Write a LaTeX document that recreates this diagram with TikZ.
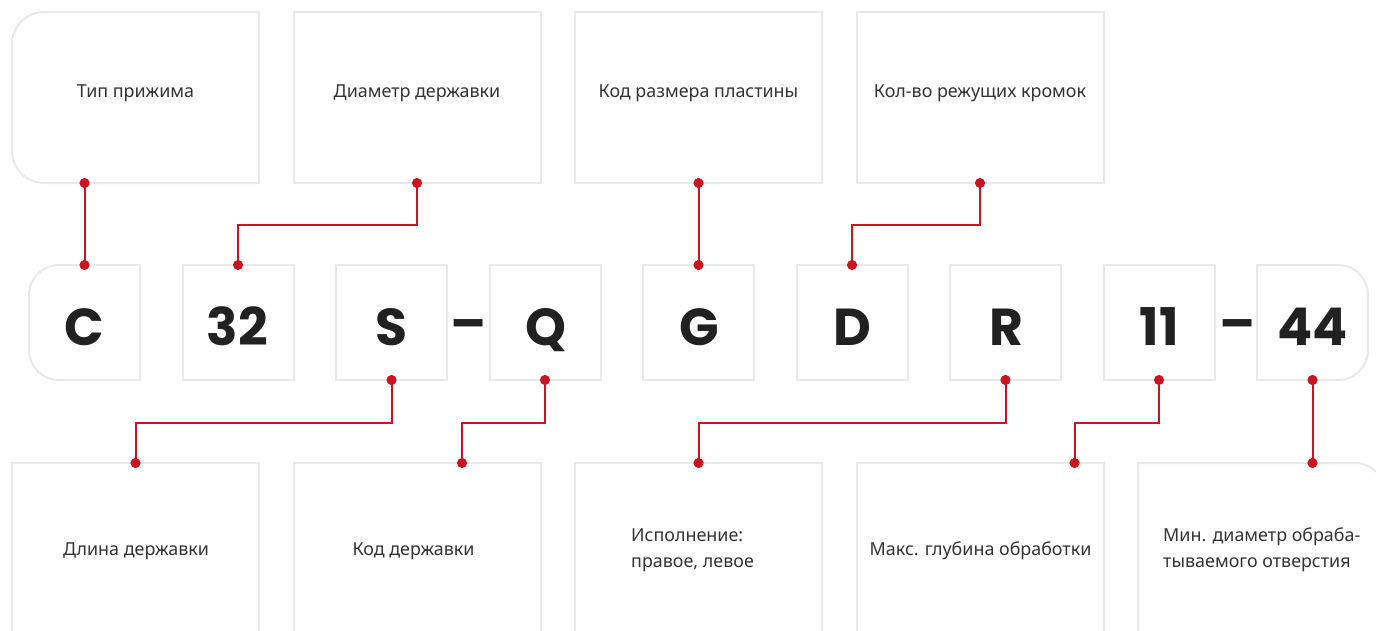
\documentclass[tikz,border=0pt]{standalone}
\usepackage{fontspec}
\setmainfont{Noto Sans}
\newfontfamily\codefont{Poppins}
\usepackage{tikz}
\usetikzlibrary{arrows.meta, positioning, calc}
\definecolor{boxgray}{RGB}{233,233,233}
\definecolor{markred}{RGB}{204,20,32}
\definecolor{ink}{RGB}{33,33,33}
\definecolor{labelgray}{RGB}{51,51,51}

\begin{document}
\begin{tikzpicture}[x=1pt, y=-1pt,
      cell/.style={rectangle, draw=boxgray, line width=2pt, outer sep=0pt,
                   minimum width=111pt, minimum height=115pt, inner sep=0pt},
      card/.style={rectangle, draw=boxgray, line width=2pt, outer sep=0pt,
                   minimum width=247pt, minimum height=171pt, inner sep=0pt},
      deep/.style={card, minimum height=187pt},
      ghost/.style={draw=none},
      edge/.style={boxgray, line width=2pt},
      code/.style={font=\codefont\bfseries\fontsize{52}{52}\selectfont, text=ink,
                   inner sep=0pt, anchor=base},
      lbl/.style={font=\fontsize{17.9}{26}\selectfont, text=labelgray, align=left,
                  inner sep=0pt},
      link/.style={{Circle[length=10pt]}-{Circle[length=10pt]}, markred,
                   line width=2pt, shorten <=-5pt, shorten >=-5pt},
      ]
    \useasboundingbox (0,0) rectangle (1376,630);
    \clip (0,0) rectangle (1376,630);

    % top row
    \node[card, ghost] (t1) at (135.5,97.5) {};
    \node[card, right=34.5pt of t1] (t2) {};
    \node[card, right=34.5pt of t2] (t3) {};
    \node[card, right=34.5pt of t3] (t4) {};
    \draw[edge] (t1.south east) -- (t1.north east) [rounded corners=32pt]
      -- (t1.north west) -- (t1.south west) [sharp corners] -- cycle;

    % code cells
    \node[cell, ghost] (c) at (84.5,322.5) {};
    \node[cell, right=42.5pt of c] (n32) {};
    \node[cell, right=42.5pt of n32] (s) {};
    \node[cell, right=42.5pt of s] (q) {};
    \node[cell, right=42.5pt of q] (g) {};
    \node[cell, right=42.5pt of g] (d) {};
    \node[cell, right=42.5pt of d] (r) {};
    \node[cell, right=42.5pt of r] (n11) {};
    \node[cell, ghost, right=42.5pt of n11] (n44) {};
    \draw[edge] (c.south east) -- (c.north east) [rounded corners=30pt]
      -- (c.north west) -- (c.south west) [sharp corners] -- cycle;
    \draw[edge] (n44.north west) -- (n44.south west) [rounded corners=30pt]
      -- (n44.south east) -- (n44.north east) [sharp corners] -- cycle;

    % bottom row
    \node[deep] (b1) at (135.5,556.5) {};
    \node[deep, right=34.5pt of b1] (b2) {};
    \node[deep, right=34.5pt of b2] (b3) {};
    \node[deep, right=34.5pt of b3] (b4) {};
    \node[deep, ghost, right=34.5pt of b4] (b5) {};
    \draw[edge] (b5.south west) -- (b5.north west) [rounded corners=30pt]
      -- (b5.north east) -- (b5.south east);

    % letters
    \node[code] (lc) at (84.5,345) {C};
    \node[code] (l32) at (237.5,345) {32};
    \node[code] (ls) at (391.5,345) {S};
    \node[code] (lq) at (545.5,345) {Q};
    \node[code] (lg) at (699.5,345) {G};
    \node[code] (ld) at (852.5,345) {D};
    \node[code] (lr) at (1006.5,345) {R};
    \node[code] (l11) at (1159.5,345) {11};
    \node[code] (l44) at (1312.5,345) {44};
    \node[code] (dash1) at (468.5,341) {–};
    \node[code] (dash2) at (1237.5,341) {–};

    % labels
    \node[lbl] (tt1) at ([yshift=4pt]t1.center) {Тип прижима};
    \node[lbl] (tt2) at ([yshift=4pt]t2.center) {Диаметр державки};
    \node[lbl] (tt3) at ([yshift=4pt]t3.center) {Код размера пластины};
    \node[lbl] (tt4) at ([yshift=4pt]t4.center) {Кол-во режущих кромок};
    \node[lbl] (bt1) at (136,551) {Длина державки};
    \node[lbl] (bt2) at (413.5,551) {Код державки};
    \node[lbl, anchor=west] (bt3) at (631,550) {Исполнение:\\правое, левое};
    \node[lbl] (bt4) at (980.5,551) {Макс. глубина обработки};
    \node[lbl, anchor=west] (bt5) at (1163,550) {Мин. диаметр обраба-\\тываемого отверстия};

    % connectors
    \draw[link] (c.north |- t1.south) -- (c.north);
    \draw[link] (t2.south) -- ++(0,42) -| (n32.north);
    \draw[link] (g.north |- t3.south) -- (g.north);
    \draw[link] (t4.south) -- ++(0,42) -| (d.north);
    \draw[link] (s.south) -- ++(0,43) -| (b1.north);
    \draw[link] (q.south) -- ++(0,43) -| ([xshift=45pt]b2.north);
    \draw[link] (r.south) -- ++(0,43) -| (b3.north);
    \draw[link] (n11.south) -- ++(0,43) -| ([xshift=94.5pt]b4.north);
    \draw[link] (n44.south) -- (n44.south |- b5.north);
  \end{tikzpicture}
\end{document}
